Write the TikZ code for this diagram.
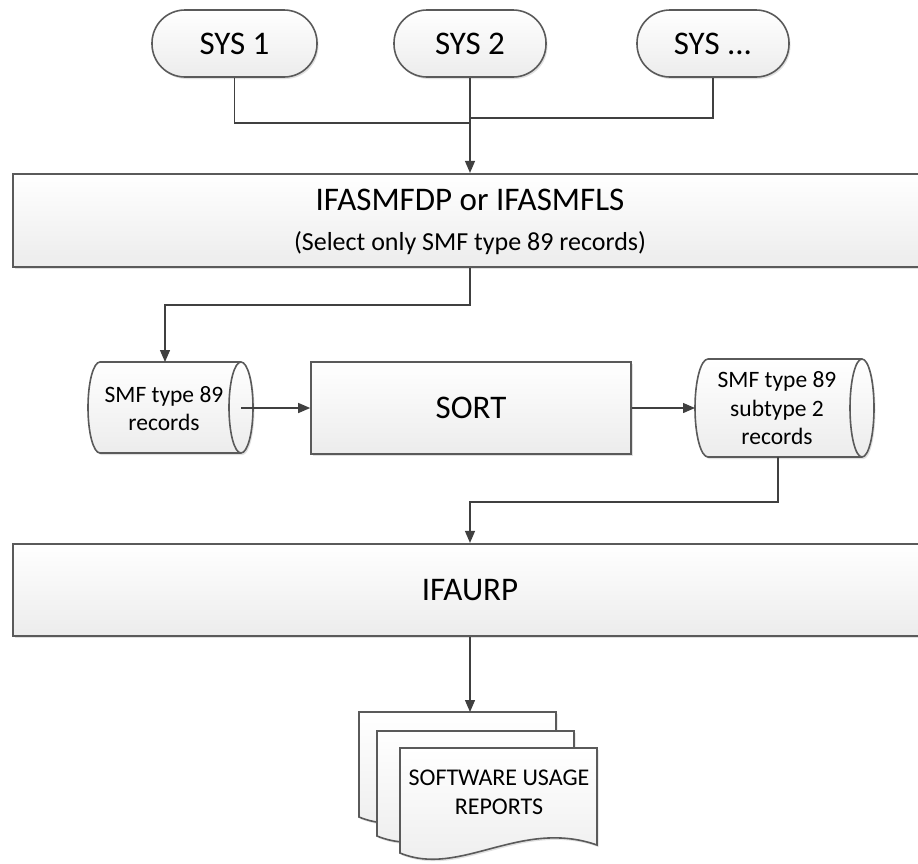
\documentclass[tikz,border=0pt]{standalone}
\usepackage{fontspec}
\setmainfont{Carlito}
\usetikzlibrary{arrows.meta,shadows,calc}

\definecolor{linegray}{HTML}{404040}
\definecolor{framegray}{HTML}{5A5A5A}
\definecolor{shadeend}{HTML}{ECECEC}

\tikzset{
  edge/.style={draw=linegray, line width=1.3pt},
  flow/.style={edge, -{Triangle[length=12pt,width=10pt]}},
  outline/.style={draw=framegray, line width=1.6pt},
  paper/.style={outline, top color=white, bottom color=shadeend,
    drop shadow={shadow xshift=1.5pt, shadow yshift=-2pt, fill=black, opacity=0.12}},
  terminal/.style={paper, rounded corners=33pt, minimum height=67pt,
    inner sep=0pt, font=\fontsize{33}{40}\selectfont},
  process/.style={paper, line width=2.2pt, inner sep=0pt},
  bigtext/.style={font=\fontsize{33}{40}\selectfont, inner sep=0pt},
  notetext/.style={font=\fontsize{26}{30}\selectfont, inner sep=0pt},
  datatext/.style={font=\fontsize{23.5}{28}\selectfont, inner sep=0pt, align=center},
}

\begin{document}
\begin{tikzpicture}[x=1pt, y=-1pt]
\useasboundingbox (0,0) rectangle (918,863);
\clip (0,0) rectangle (918,863);

% source systems
\node[terminal, minimum width=165pt] (sys1) at (234.5,43.5) {SYS 1};
\node[terminal, minimum width=152pt] (sys2) at (470,43.5) {SYS 2};
\node[terminal, minimum width=152pt] (sys3) at (713,43.5) {SYS ...};

% SMF dump / list program
\node[process, minimum width=914pt, minimum height=93pt] (select) at (470,220.5) {};
\node[bigtext] (selecttitle) at (470,200) {IFASMFDP or IFASMFLS};
\node[notetext] (selectnote) at (470,243) {(Select only SMF type 89 records)};

% sort step
\node[paper, minimum width=320pt, minimum height=92pt, inner sep=0pt,
      font=\fontsize{33}{40}\selectfont] (sort) at (471,408) {SORT};

% usage report program
\node[process, minimum width=914pt, minimum height=92pt] (ifaurp) at (470,590) {};
\node[bigtext] (ifaurptext) at (470,590) {IFAURP};

% stored data sets (horizontal cylinders)
% left: body from x=100 to ellipse centre x=241, y 362..453
\path[paper] (100,362) -- (241,362) arc[start angle=-90, end angle=90, x radius=12, y radius=45.5]
  -- (100,453) arc[start angle=90, end angle=270, x radius=12, y radius=45.5] -- cycle;
\draw[outline] (241,362) arc[start angle=-90, end angle=-270, x radius=12, y radius=45.5];
\coordinate (raw) at (241,408);
\coordinate (rawtop) at (165,362);
\node[datatext] (rawtext) at (164,408.5) {SMF type 89\\records};

% right: body from x=708 to ellipse centre x=862, y 359..457
\path[paper] (708,359) -- (862,359) arc[start angle=-90, end angle=90, x radius=12, y radius=49]
  -- (708,457) arc[start angle=90, end angle=270, x radius=13, y radius=49] -- cycle;
\draw[outline] (862,359) arc[start angle=-90, end angle=-270, x radius=12, y radius=49];
\coordinate (sortedin) at (695,408);
\coordinate (sortedout) at (778,457);
\node[datatext, font=\fontsize{23.5}{28.5}\selectfont] (sortedtext) at (777,408.5)
  {SMF type 89\\subtype 2\\records};

% report stack
\foreach \px/\py in {359/712, 377/731, 400/748}{
  \path[paper] (\px,\py) -- ++(197,0) -- ++(0,97)
    .. controls ++(-77,-27) and ($(\px,\py)+(60,130)$) .. ($(\px,\py)+(0,105)$) -- cycle;
}
\coordinate (stacktop) at (470,712);
\node[datatext, font=\fontsize{24}{29}\selectfont] (reports) at (499,792.5)
  {SOFTWARE USAGE\\REPORTS};

% connectors
\coordinate (join1) at (470,123);
\coordinate (join3) at (470,118);
\draw[edge] (sys1.south) |- (join1);
\draw[edge] (sys3.south) |- (join3);
\draw[flow] (sys2.south) -- (select.north);

\coordinate (bend1) at (470,305);
\draw[flow] (select.south) -- (bend1) -| (rawtop);
\draw[flow] (raw) -- (sort.west);
\draw[flow] (sort.east) -- (sortedin);

\coordinate (bend2) at (778,502);
\draw[flow] (sortedout) -- (bend2) -| (ifaurp.north);
\draw[flow] (ifaurp.south) -- (stacktop);
\end{tikzpicture}
\end{document}
